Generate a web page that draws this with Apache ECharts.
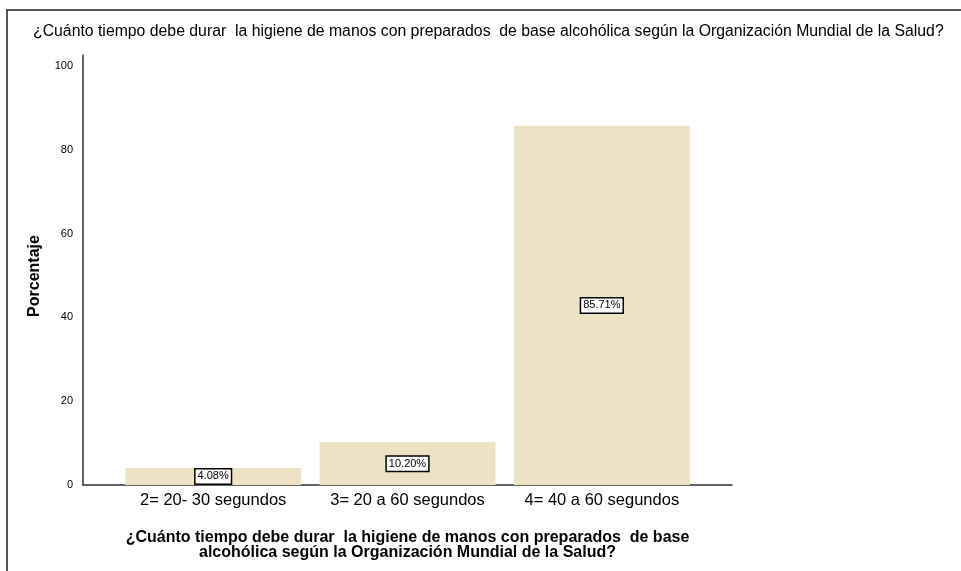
<!DOCTYPE html>
<html>
<head>
<meta charset="utf-8">
<script src="https://cdn.jsdelivr.net/npm/echarts@6/dist/echarts.min.js"></script>
<style>
	html, body { margin: 0; padding: 0; background: #fff; }
	#chart { width: 961px; height: 571px; }
</style>
</head>
<body>
<div id="chart"></div>
<script>
	// datos
	var categories = [ '2= 20- 30 segundos', '3= 20 a 60 segundos', '4= 40 a 60 segundos' ];
	var porcentajes = [ 4.08, 10.20, 85.71 ];
	var pregunta = '¿Cuánto tiempo debe durar  la higiene de manos con preparados  de base alcohólica según la Organización Mundial de la Salud?';
	var preguntaEje = '¿Cuánto tiempo debe durar  la higiene de manos con preparados  de base\nalcohólica según la Organización Mundial de la Salud?';

	var fuente = '"Liberation Sans", Arial, sans-serif';
	var yMax = 102.6;

	var chart = echarts.init(document.getElementById('chart'));
	chart.setOption({
		animation : false,
		textStyle : { fontFamily : fuente },
		title : {
			text : pregunta,
			left : 33,
			top : 24,
			padding : 0,
			textStyle : { fontFamily : fuente, fontSize : 15.8, fontWeight : 'normal', color : '#000' }
		},
		// marco
		graphic : [ {
			type : 'polyline',
			shape : { points : [ [ 7, 571 ], [ 7, 10 ], [ 961, 10 ] ] },
			style : { stroke : '#555', lineWidth : 2, fill : null }
		} ],
		grid : [
			{ left : 116, width : 583, top : 55, height : 430 },
			{ left : 83, width : 649, top : 55, height : 430 }
		],
		xAxis : [ {
			type : 'category',
			gridIndex : 0,
			data : categories,
			axisLine : { show : false },
			axisTick : { show : false },
			axisLabel : { color : '#000', fontSize : 16.5, margin : 7, interval : 0 },
			name : preguntaEje,
			nameLocation : 'middle',
			nameGap : 45,
			nameTextStyle : { color : '#000', fontSize : 16, fontWeight : 'bold', lineHeight : 15 }
		}, {
			type : 'value',
			gridIndex : 1,
			min : 0,
			max : 1,
			axisLine : { show : true, lineStyle : { color : '#333', width : 1.5 } },
			axisTick : { show : false },
			axisLabel : { show : false },
			splitLine : { show : false }
		} ],
		yAxis : [ {
			type : 'value',
			gridIndex : 0,
			min : 0,
			max : yMax,
			show : false
		}, {
			type : 'value',
			gridIndex : 1,
			min : 0,
			max : yMax,
			interval : 20,
			axisLine : { show : true, lineStyle : { color : '#333', width : 1.5 } },
			axisTick : { show : false },
			splitLine : { show : false },
			axisLabel : { color : '#000', fontSize : 11, margin : 10, showMaxLabel : false },
			name : 'Porcentaje',
			nameLocation : 'middle',
			nameGap : 40,
			nameTextStyle : { color : '#000', fontSize : 16, fontWeight : 'bold', padding : [ 0, 12, 0, 0 ] }
		} ],
		series : [ {
			type : 'bar',
			xAxisIndex : 0,
			yAxisIndex : 0,
			data : porcentajes,
			barWidth : 176,
			itemStyle : { color : '#ede3c4' },
			label : {
				show : true,
				position : 'inside',
				formatter : function(p) {
					return p.value.toFixed(2) + '%';
				},
				color : '#000',
				fontSize : 11,
				backgroundColor : '#fff',
				borderColor : '#000',
				borderWidth : 1.5,
				padding : [ 2, 2, 1, 2 ]
			}
		} ]
	});
</script>
</body>
</html>
